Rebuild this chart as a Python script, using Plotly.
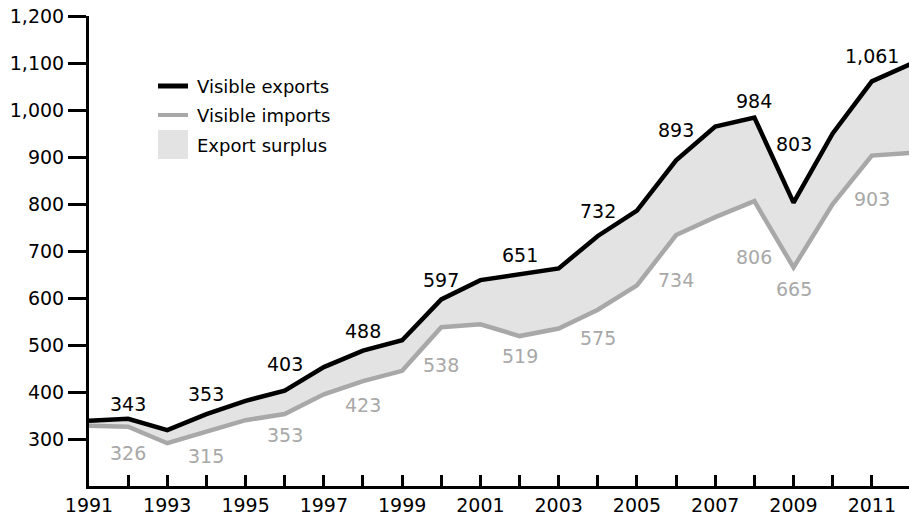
import plotly.graph_objects as go

years = list(range(1991, 2013))
exports = [339, 343, 319, 353, 381, 403, 453, 488, 510, 597, 638, 651,
           663, 732, 786, 893, 965, 984, 803, 950, 1061, 1098]
imports = [328, 326, 291, 315, 340, 353, 395, 423, 445, 538, 544, 519,
           535, 575, 627, 734, 772, 806, 665, 800, 903, 909]

exp_label_years = [1992, 1994, 1996, 1998, 2000, 2002, 2004, 2006, 2008, 2009, 2011]
imp_label_years = [1992, 1994, 1996, 1998, 2000, 2002, 2004, 2006, 2008, 2009, 2011]

x_tick_labels = [str(y) for y in range(1991, 2012, 2)]
y_tick_vals = list(range(300, 1201, 100))
legend_names = ["Visible exports", "Visible imports", "Export surplus"]

# label offsets (pixels, styling only)
exp_label_shift = [15, 20, 27, 20, 19, 19, 25, 30, 17, 59, 25]
imp_label_shift = [26, 24, 21, 24, 38, 20, 28, 45, 56, 22, 43]

BLACK = "#000000"
GRAY_LINE = "#a8a8a8"
GRAY_TEXT = "#a8a8a8"
FILL = "#e3e3e3"
FONT = "DejaVu Sans"

W, H = 909, 515
ML, MR, MT, MB = 89, 0, 16, 29
PW, PH = W - ML - MR, H - MT - MB


def px(xp):
    return (xp - ML) / PW


def py(yp):
    return (H - MB - yp) / PH


fig = go.Figure()

# base for fill
fig.add_trace(go.Scatter(x=years, y=imports, mode="lines",
                         line=dict(width=0, color=FILL),
                         showlegend=False, hoverinfo="skip"))
fig.add_trace(go.Scatter(x=years, y=exports, mode="lines", fill="tonexty",
                         fillcolor=FILL, line=dict(width=0, color=FILL),
                         name=legend_names[2], showlegend=False))
fig.add_trace(go.Scatter(x=years, y=imports, mode="lines",
                         line=dict(width=4.5, color=GRAY_LINE),
                         name=legend_names[1], showlegend=False))
fig.add_trace(go.Scatter(x=years, y=exports, mode="lines",
                         line=dict(width=4.5, color=BLACK),
                         name=legend_names[0], showlegend=False))

annotations = []
for yr, sh in zip(exp_label_years, exp_label_shift):
    v = exports[years.index(yr)]
    annotations.append(dict(x=yr, y=v, text=f"{v:,}", showarrow=False,
                            yshift=sh, font=dict(family=FONT, size=19, color=BLACK)))
for yr, sh in zip(imp_label_years, imp_label_shift):
    v = imports[years.index(yr)]
    annotations.append(dict(x=yr, y=v, text=f"{v:,}", showarrow=False,
                            yshift=-sh, font=dict(family=FONT, size=19, color=GRAY_TEXT)))

# custom legend
shapes = [
    dict(type="line", xref="paper", yref="paper", x0=px(158), x1=px(188),
         y0=py(86), y1=py(86), line=dict(color=BLACK, width=5)),
    dict(type="line", xref="paper", yref="paper", x0=px(158), x1=px(188),
         y0=py(115), y1=py(115), line=dict(color=GRAY_LINE, width=4)),
    dict(type="rect", xref="paper", yref="paper", x0=px(158), x1=px(188),
         y0=py(159), y1=py(130), line=dict(width=0), fillcolor=FILL),
]
for name, yc in zip(legend_names, [86, 115, 145]):
    annotations.append(dict(xref="paper", yref="paper", x=px(195), y=py(yc),
                            xanchor="left", yanchor="middle", text=name,
                            showarrow=False,
                            font=dict(family=FONT, size=18, color=BLACK)))

fig.update_layout(
    width=W, height=H,
    margin=dict(l=ML, r=MR, t=MT, b=MB),
    paper_bgcolor="white", plot_bgcolor="white",
    font=dict(family=FONT, size=19, color=BLACK),
    showlegend=False,
    annotations=annotations,
    shapes=shapes,
    xaxis=dict(range=[1991, 2011.95], tickmode="array",
               tickvals=list(range(1991, 2012, 2)), ticktext=x_tick_labels,
               ticks="inside", ticklen=11, tickwidth=3, tickcolor=BLACK,
               minor=dict(tickmode="array", tickvals=list(range(1992, 2012, 2)),
                          ticks="inside", ticklen=11, tickwidth=3, tickcolor=BLACK),
               showline=True, linewidth=3, linecolor=BLACK,
               showgrid=False, zeroline=False),
    yaxis=dict(range=[200, 1200], tickmode="array", tickvals=y_tick_vals,
               tickformat=",", ticks="outside", ticklen=18, tickwidth=3,
               tickcolor=BLACK, showline=True, linewidth=3, linecolor=BLACK,
               showgrid=False, zeroline=False),
)

fig.write_html("out.html")
